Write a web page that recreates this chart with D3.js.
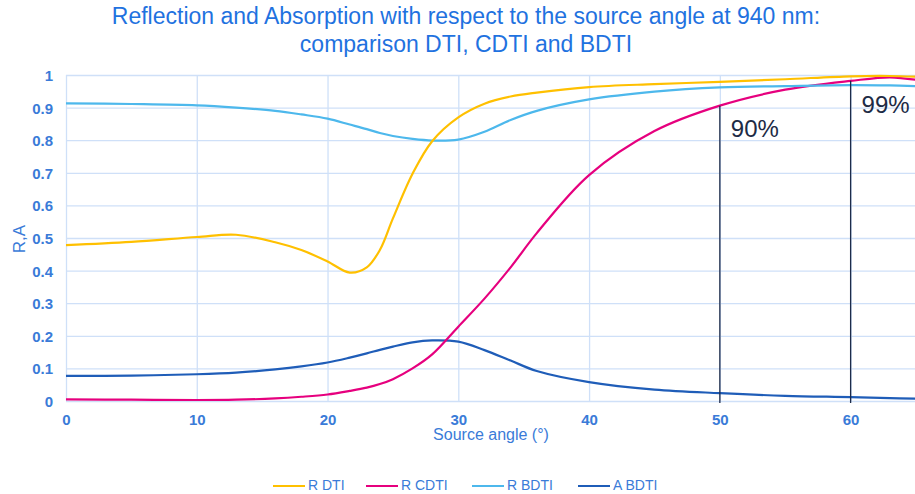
<!DOCTYPE html>
<html><head><meta charset="utf-8">
<script src="https://cdn.jsdelivr.net/npm/d3@7"></script>
<style>body{margin:0;background:#fff;}svg{display:block;font-family:"Liberation Sans",Arial,sans-serif;}</style>
</head><body>
<svg id="c" width="915" height="494"></svg>
<script>
const angles = [0,5,10,13,16,18,20,21.7,23,24,25,26.5,28,30,32,34,36,40,45,50,55,60,63,65];
const rDTI  = [0.478,0.488,0.503,0.510,0.487,0.463,0.428,0.394,0.410,0.463,0.560,0.697,0.797,0.870,0.912,0.934,0.946,0.963,0.972,0.979,0.987,0.996,0.997,0.995];
const rCDTI = [0.005,0.004,0.003,0.004,0.008,0.013,0.020,0.031,0.041,0.052,0.067,0.100,0.143,0.228,0.314,0.410,0.515,0.693,0.828,0.906,0.955,0.982,0.993,0.985];
const rBDTI = [0.913,0.911,0.907,0.900,0.890,0.879,0.866,0.848,0.834,0.822,0.813,0.804,0.799,0.802,0.826,0.862,0.890,0.925,0.949,0.962,0.966,0.969,0.968,0.966];
const aBDTI = [0.077,0.078,0.082,0.087,0.097,0.106,0.118,0.133,0.146,0.157,0.167,0.180,0.186,0.182,0.156,0.124,0.092,0.058,0.035,0.024,0.016,0.012,0.009,0.007];
const seriesNames = ["R DTI","R CDTI","R BDTI","A BDTI"];
const seriesColors = ["#FFC000","#E6007E","#4DB8EC","#1F5DB8"];
const xTicks = [0,10,20,30,40,50,60];
const yTicks = [0,0.1,0.2,0.3,0.4,0.5,0.6,0.7,0.8,0.9,1];
const markAngles = [50,60];
const markValues = [0.906,0.982];
const markLabels = ["90%","99%"];

const svg = d3.select("#c");
const x = d3.scaleLinear().domain([0,65]).range([66,916]);
const y = d3.scaleLinear().domain([0,1]).range([401,75]);
const gridC = "#cfe0f8", textC = "#3a7bd8";

// title
svg.append("text").attr("x",466).attr("y",24).attr("text-anchor","middle").attr("font-size",23).attr("fill","#1f72e0")
  .text("Reflection and Absorption with respect to the source angle at 940 nm:");
svg.append("text").attr("x",466).attr("y",52).attr("text-anchor","middle").attr("font-size",23).attr("fill","#1f72e0")
  .text("comparison DTI, CDTI and BDTI");

// grid
svg.append("g").selectAll("line").data(yTicks).join("line")
  .attr("x1",x(0)).attr("x2",916).attr("y1",d=>y(d)+0.5).attr("y2",d=>y(d)+0.5)
  .attr("stroke",gridC).attr("stroke-width",1.3);
svg.append("g").selectAll("line").data(xTicks).join("line")
  .attr("y1",y(1)).attr("y2",y(0)).attr("x1",d=>x(d)+0.5).attr("x2",d=>x(d)+0.5)
  .attr("stroke",gridC).attr("stroke-width",1.3);

// axes labels via d3 axes
const yAx = svg.append("g").attr("transform",`translate(56,0)`)
  .call(d3.axisLeft(y).tickValues(yTicks).tickFormat(d=>d3.format("~g")(d)).tickSize(0));
yAx.select(".domain").remove();
yAx.selectAll("text").attr("font-size",15).attr("font-weight","bold").attr("fill",textC).attr("font-family","Liberation Sans, Arial, sans-serif").attr("dy","0.36em");
const xAx = svg.append("g").attr("transform",`translate(0,411)`)
  .call(d3.axisBottom(x).tickValues(xTicks).tickFormat(d3.format("d")).tickSize(0));
xAx.select(".domain").remove();
xAx.selectAll("text").attr("font-size",15).attr("font-weight","bold").attr("fill",textC).attr("font-family","Liberation Sans, Arial, sans-serif");

svg.append("text").attr("x",491).attr("y",440).attr("text-anchor","middle").attr("font-size",16).attr("fill",textC).text("Source angle (°)");
svg.append("text").attr("transform","translate(25,239) rotate(-90)").attr("text-anchor","middle").attr("font-size",17).attr("fill",textC).text("R,A");

// lines
const data = [rDTI,rCDTI,rBDTI,aBDTI];
const line = d3.line().x((d,i)=>x(angles[i])).y(d=>y(d)).curve(d3.curveCatmullRom.alpha(0.5));
svg.append("clipPath").attr("id","cp").append("rect").attr("x",x(0)).attr("y",60).attr("width",860).attr("height",360);
const lg = svg.append("g").attr("clip-path","url(#cp)");
const order = [3,1,2,0];
order.forEach(k=>{
  lg.append("path").datum(data[k]).attr("d",line).attr("fill","none").attr("stroke",seriesColors[k]).attr("stroke-width",2.2);
});

// annotations
markAngles.forEach((a,i)=>{
  svg.append("line").attr("x1",x(a)).attr("x2",x(a)).attr("y1",y(markValues[i])).attr("y2",y(0)+2)
    .attr("stroke","#1d2b4a").attr("stroke-width",1.3);
});
svg.append("text").attr("x",x(50)+11).attr("y",137).attr("font-size",24).attr("fill","#1d2b45").text(markLabels[0]);
svg.append("text").attr("x",x(60)+11).attr("y",113).attr("font-size",24).attr("fill","#1d2b45").text(markLabels[1]);

// legend
const legX = [273,366,472,578];
const leg = svg.append("g");
seriesNames.forEach((n,i)=>{
  leg.append("line").attr("x1",legX[i]).attr("x2",legX[i]+32).attr("y1",486).attr("y2",486).attr("stroke",seriesColors[i]).attr("stroke-width",2);
  leg.append("text").attr("x",legX[i]+35).attr("y",490).attr("font-size",14).attr("fill",textC).text(n);
});
</script>
</body></html>
